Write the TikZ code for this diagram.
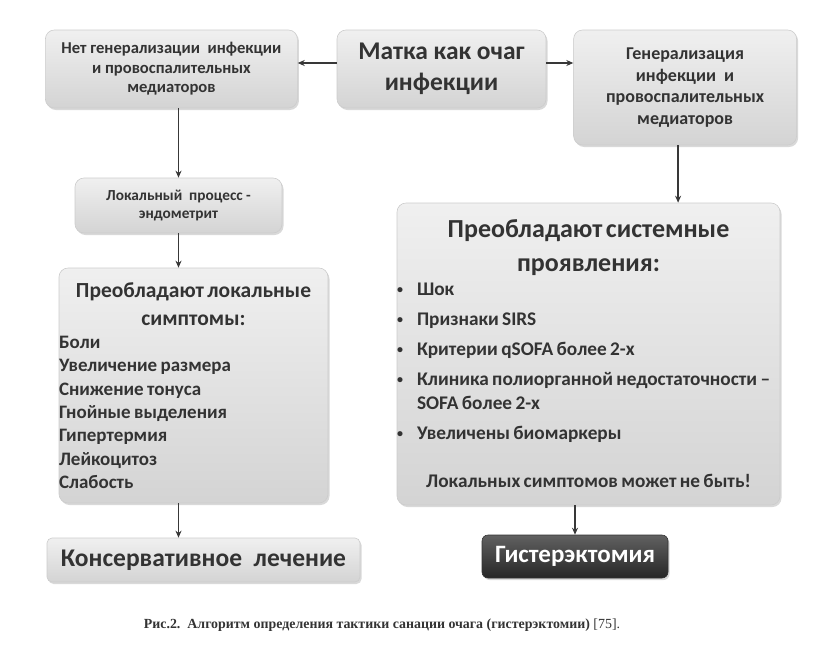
\documentclass[tikz,border=0pt]{standalone}
\usepackage{fontspec}
\setmainfont{Carlito}
\newfontfamily\capfont{Liberation Serif}
\usetikzlibrary{positioning,shadows,arrows.meta}

\newcommand\blt{\makebox[20pt][l]{\raisebox{2.5pt}{\fontsize{12}{12}\selectfont\textbullet}}}

\begin{document}
\begin{tikzpicture}
    [ x = 1pt, y = -1pt
    , box/.style =
      { draw = black!20, line width = .6pt, rounded corners = 9pt
      , top color = black!6, bottom color = black!17
      , drop shadow = {shadow xshift = 1.5pt, shadow yshift = -2pt, opacity = .3}
      , text = black!80, font = \bfseries, align = center, inner sep = 0pt }
    , darkbox/.style =
      { box, draw = black!80, top color = black!62, bottom color = black!85
      , rounded corners = 6pt, text = white }
    , link/.style =
      { -{Stealth[length=7pt,width=6pt]}, line width = 1.4pt, draw = black!78 }
    ]
    \useasboundingbox (0,0) rectangle (832,651);

    \node [box, minimum width = 209pt, minimum height = 78pt
          , font = \bfseries\fontsize{25.5}{31}\selectfont]
          (matka) at (441.5,69) {Матка как очаг\\ инфекции};
    \node [box, minimum width = 252pt, minimum height = 78pt
          , font = \bfseries\fontsize{16.6}{19.5}\selectfont]
          (nogen) [left = 39pt of matka] {Нет генерализации \ инфекции\\ и провоспалительных\\ медиаторов};
    \node [box, minimum width = 223pt, minimum height = 115pt
          , font = \bfseries\fontsize{18}{21.5}\selectfont]
          (gen) [right = 27pt of matka.north east, anchor = north west]
          {Генерализация\\ инфекции \ и\\ провоспалительных\\ медиаторов};
    \node [box, minimum width = 207pt, minimum height = 55pt
          , font = \bfseries\fontsize{15.3}{18.5}\selectfont]
          (lokproc) at (178.5,205.5) {Локальный \ процесс -\\ эндометрит};

    \node [box, text width = 269pt, minimum height = 235pt, align = left]
          (loksym) at (193.5,385.5)
          {{\centering\fontsize{21.5}{28}\selectfont Преобладают локальные\\ симптомы:\par}
           \fontsize{19}{23.3}\selectfont
           Боли\\ Увеличение размера\\ Снижение тонуса\\ Гнойные выделения\\
           Гипертермия\\ Лейкоцитоз\\ Слабость\par};
    \node [box, minimum width = 313pt, minimum height = 44pt, rounded corners = 5pt
          , font = \bfseries\fontsize{25.5}{30}\selectfont]
          (kons) at (203.5,560) {Консервативное \ лечение};

    \node [box, text width = 383pt, minimum height = 302pt, align = left]
          (sysm) at (588.5,354)
          {{\centering\fontsize{26}{34}\selectfont Преобладают системные\\ проявления:\par}
           \fontsize{19.3}{24}\selectfont
           \blt Шок\\[6pt]
           \blt Признаки SIRS\\[6pt]
           \blt Критерии qSOFA более 2-х\\[6pt]
           \blt Клиника полиорганной недостаточности –\\
           \hspace*{20pt}SOFA более 2-х\\[6pt]
           \blt Увеличены биомаркеры\par\vspace{24pt}
           {\centering Локальных симптомов может не быть!\par}};
    \node [darkbox, minimum width = 186pt, minimum height = 43pt
          , font = \bfseries\fontsize{25}{30}\selectfont]
          (hyst) at (575,556.5) {Гистерэктомия};

    \node [text = black!80, font = \capfont\bfseries\fontsize{13.9}{16}\selectfont]
          (cap) at (382,625)
          {Рис.2.\ \ Алгоритм определения тактики санации очага (гистерэктомии) {\mdseries [75].}};

    \draw [link] ([yshift=6pt]matka.west) -- ([yshift=6pt]matka.west -| nogen.east);
    \draw [link] ([yshift=6pt]matka.east) -- ([yshift=6pt]matka.east -| gen.west);
    \draw [link] (nogen.south -| lokproc.north) -- (lokproc.north);
    \draw [link] (lokproc.south) -- (lokproc.south |- loksym.north);
    \draw [link] (loksym.south -| lokproc.south) -- (kons.north -| lokproc.south);
    \draw [link] ([xshift=-7pt]gen.south) -- ([xshift=-7pt]gen.south |- sysm.north);
    \draw [link] (sysm.south -| hyst.north) -- (hyst.north);
\end{tikzpicture}
\end{document}
